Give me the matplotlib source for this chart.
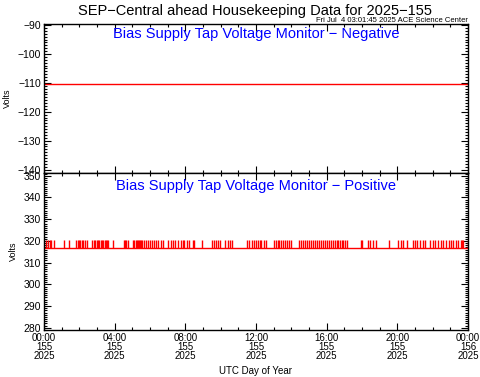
import matplotlib
matplotlib.use("Agg")
import matplotlib.pyplot as plt
from matplotlib.ticker import MultipleLocator

plt.rcParams['font.family'] = ['Liberation Sans', 'DejaVu Sans']

# hours of day 155 (2025)
neg_hours = [0.0, 24.0]
neg_volts = [-110.3, -110.3]

# positive monitor: baseline level and the hours where it jumps up one step
pos_low = 316.8
pos_high = 320.5
pos_spike_hours = [
    0.10, 0.21, 0.34, 0.40, 0.57, 1.15, 1.41, 1.83, 1.91, 1.98, 2.05, 2.15, 2.22,
    2.32, 2.42, 2.73, 2.81, 2.89, 2.98, 3.06, 3.13, 3.21, 3.28, 3.36, 3.44, 3.51,
    3.58, 3.64, 3.92, 4.51, 4.58, 4.66, 4.74, 5.02, 5.11, 5.19, 5.26, 5.34, 5.39,
    5.45, 5.51, 5.56, 5.64, 5.76, 5.87, 5.98, 6.10, 6.23, 6.34, 6.47, 6.60, 6.75,
    7.03, 7.17, 7.28, 7.41, 7.60, 7.74, 7.85, 7.94, 8.11, 8.22, 8.42, 8.49, 8.92,
    9.52, 9.64, 9.73, 9.86, 9.96, 10.26, 10.40, 10.53, 10.66, 11.51, 11.60, 11.77,
    11.88, 12.00, 12.09, 12.21, 12.26, 12.45, 12.56, 13.03, 13.13, 13.23, 13.32,
    13.40, 13.51, 13.64, 13.75, 13.88, 13.98, 14.45, 14.56, 14.67, 14.79, 14.90,
    15.01, 15.13, 15.24, 15.35, 15.47, 15.58, 15.66, 15.77, 15.89, 16.00, 16.11,
    16.23, 16.34, 16.45, 16.56, 16.66, 16.75, 16.85, 16.94, 17.03, 17.13, 17.92,
    18.01, 18.32, 18.45, 18.60, 18.79, 19.52, 20.05, 20.19, 20.33, 20.56, 20.87,
    21.00, 21.13, 21.28, 21.43, 21.56, 21.84, 22.00, 22.15, 22.30, 22.45, 22.60,
    22.75, 22.90, 23.02, 23.16, 23.30, 23.45, 23.58, 23.66, 23.73, 23.98,
]

tick_hours = [0, 4, 8, 12, 16, 20, 24]
tick_labels = ["00:00\n155\n2025", "04:00\n155\n2025", "08:00\n155\n2025",
               "12:00\n155\n2025", "16:00\n155\n2025", "20:00\n155\n2025",
               "00:00\n156\n2025"]

fig = plt.figure(figsize=(4.81, 3.77), dpi=100)
ax1 = fig.add_axes([44/481, (377-172.5)/377, 424/481, 148.5/377])
ax2 = fig.add_axes([44/481, (377-330)/377, 424/481, 157.5/377])


def style(ax):
    ax.set_xlim(0, 24)
    ax.set_xticks(tick_hours)
    ax.xaxis.set_minor_locator(MultipleLocator(1))
    ax.yaxis.set_major_locator(MultipleLocator(10))
    ax.yaxis.set_minor_locator(MultipleLocator(1))
    ax.tick_params(which='both', direction='in', top=True, right=True,
                   labelsize=7.5, width=0.8, pad=2)
    ax.tick_params(which='major', length=5)
    ax.tick_params(which='minor', length=2.5)
    for s in ax.spines.values():
        s.set_linewidth(1.0)
    ax.set_ylabel("Volts", fontsize=6.5, labelpad=4)


ax1.plot(neg_hours, neg_volts, color='red', lw=1)
ax1.set_ylim(-141, -89.6)
style(ax1)
ax1.set_xticklabels([])
ax1.text(0.5, 0.93, "Bias Supply Tap Voltage Monitor \u2212 Negative",
         transform=ax1.transAxes, ha='center', va='center', color='blue', fontsize=10.5)

ax2.plot([0, 24], [pos_low, pos_low], color='red', lw=1)
ax2.vlines(pos_spike_hours, pos_low, pos_high, color='red', lw=1)
ax2.set_ylim(279, 351.5)
style(ax2)
ax2.set_xticklabels(tick_labels, fontsize=7, linespacing=0.87)
ax2.text(0.5, 0.915, "Bias Supply Tap Voltage Monitor \u2212 Positive",
         transform=ax2.transAxes, ha='center', va='center', color='blue', fontsize=10.5)
ax2.set_xlabel("UTC Day of Year", fontsize=7, labelpad=4)

fig.text(255/481, 1 - 11/377, "SEP\u2212Central ahead Housekeeping Data for 2025\u2212155",
         ha='center', va='center', fontsize=10.5)
fig.text(468/481, 1 - 20/377, "Fri Jul  4 03:01:45 2025 ACE Science Center",
         ha='right', va='center', fontsize=5.5)

fig.savefig("out.png", dpi=100)
